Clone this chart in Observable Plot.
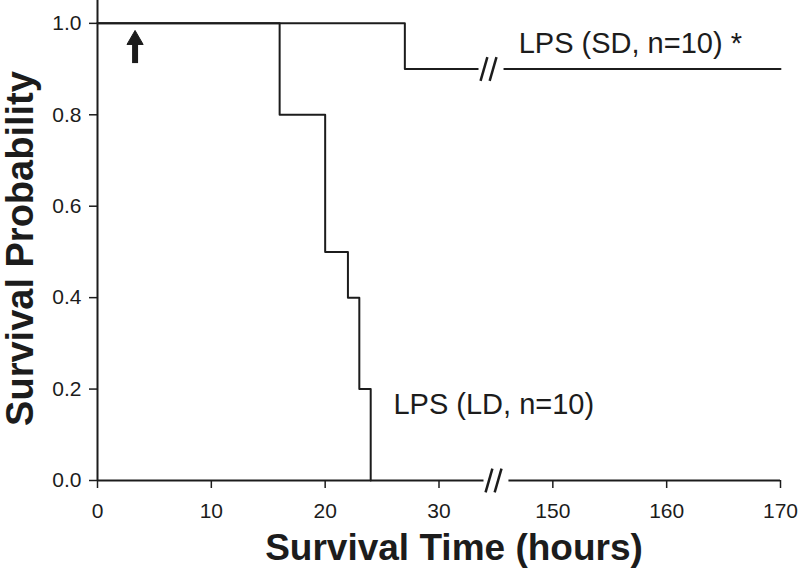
<!DOCTYPE html>
<html>
<head>
<meta charset="utf-8">
<script src="https://cdn.jsdelivr.net/npm/d3@7"></script>
<script src="https://cdn.jsdelivr.net/npm/@observablehq/plot@0.6"></script>
<style>
  html, body { margin: 0; padding: 0; background: #fff; }
  #chart svg { display: block; }
</style>
</head>
<body>
<div id="chart"></div>
<script>
// ---- Data ----
const ldTime = [0, 16, 20, 22, 23, 24];
const ldSurv = [1.0, 0.8, 0.5, 0.4, 0.2, 0.0];
const sdTime = [0, 27, 170];
const sdSurv = [1.0, 0.9, 0.9];
const xTickValues = [0, 10, 20, 30, 150, 160, 170];
const yTickValues = [0, 0.2, 0.4, 0.6, 0.8, 1.0];
const seriesLabels = ["LPS (SD, n=10) *", "LPS (LD, n=10)"];
const labelTime = [147, 26];
const labelSurv = [0.956, 0.166];
const arrowTime = [3.3];

// ---- Broken time axis: hours after the break are shifted left ----
const breakHour = 35, breakShift = 110;
const toAxis = t => (t > breakHour ? t - breakShift : t);

const ld = ldTime.map((t, i) => ({x: toAxis(t), y: ldSurv[i]}));
const sd = sdTime.map((t, i) => ({x: toAxis(t), y: sdSurv[i]}));
const xTickPos = xTickValues.map(toAxis);
const labelData = seriesLabels.map((s, i) => ({text: s, x: toAxis(labelTime[i]), y: labelSurv[i]}));

const ink = "#1c1c1c";
const font = "'Liberation Sans', Arial, Helvetica, sans-serif";

// break decoration (axis units)
const breaks = [
  {cx: 34.35, cy: 0.9, g1: 33.47, g2: 35.67},
  {cx: 34.79, cy: 0.0, g1: 33.91, g2: 36.1}
];
const slashes = breaks.flatMap(b => [-0.4, 0.4].map(o => ({
  x1: b.cx + o - 0.3, y1: b.cy - 0.026, x2: b.cx + o + 0.3, y2: b.cy + 0.026
})));

const chart = Plot.plot({
  width: 800,
  height: 572,
  marginLeft: 97,
  marginRight: 20,
  marginTop: 0,
  marginBottom: 92,
  style: {fontFamily: font, fontSize: "21px", color: ink, background: "#fff"},
  x: {domain: [0, 60], axis: null},
  y: {domain: [0, 1.05], axis: null},
  marks: [
    // axis lines
    Plot.ruleY([0], {x1: 0, x2: 60, stroke: ink, strokeWidth: 2}),
    Plot.ruleX([0], {y1: 0, y2: 1.05, stroke: ink, strokeWidth: 2}),
    Plot.axisX(xTickPos, {
      tickSize: 8, tickPadding: 15, fontSize: 21, stroke: ink, strokeWidth: 1.5,
      tickFormat: d => String(xTickValues[xTickPos.indexOf(d)]), label: null
    }),
    Plot.axisY(yTickValues, {
      tickSize: 8, tickPadding: 8, fontSize: 21, stroke: ink, strokeWidth: 1.5,
      tickFormat: d => d.toFixed(1), label: null
    }),
    // survival curves
    Plot.line(sd, {x: "x", y: "y", curve: "step-after", stroke: ink, strokeWidth: 2}),
    Plot.line(ld, {x: "x", y: "y", curve: "step-after", stroke: ink, strokeWidth: 2}),
    // break gaps and slashes
    Plot.link(breaks, {x1: "g1", x2: "g2", y1: "cy", y2: "cy", stroke: "#fff", strokeWidth: 6}),
    Plot.link(slashes, {x1: "x1", y1: "y1", x2: "x2", y2: "y2", stroke: ink, strokeWidth: 2.5}),
    // injection arrow
    Plot.ruleX(arrowTime, {y1: 0.912, y2: 0.955, stroke: ink, strokeWidth: 6}),
    Plot.dot(arrowTime, {x: d => d, y: 0.964, symbol: "triangle", r: 6, fill: ink, stroke: ink, strokeWidth: 1}),
    // series labels
    Plot.text(labelData, {
      x: "x", y: "y", text: "text", textAnchor: "start", lineAnchor: "middle",
      fontSize: 29, fill: ink, letterSpacing: 2.5
    }),
    // axis titles
    Plot.text(["Survival Time (hours)"], {
      frameAnchor: "bottom", textAnchor: "middle", lineAnchor: "middle",
      dx: 15, dy: 68, fontSize: 37, fontWeight: "bold", fill: ink, letterSpacing: 0.6
    }),
    Plot.text(["Survival Probability"], {
      frameAnchor: "left", textAnchor: "middle", lineAnchor: "middle",
      dx: -77, dy: 8, rotate: -90, fontSize: 38, fontWeight: "bold", fill: ink, letterSpacing: 0.8
    })
  ]
});

document.getElementById("chart").appendChild(chart);
</script>
</body>
</html>
